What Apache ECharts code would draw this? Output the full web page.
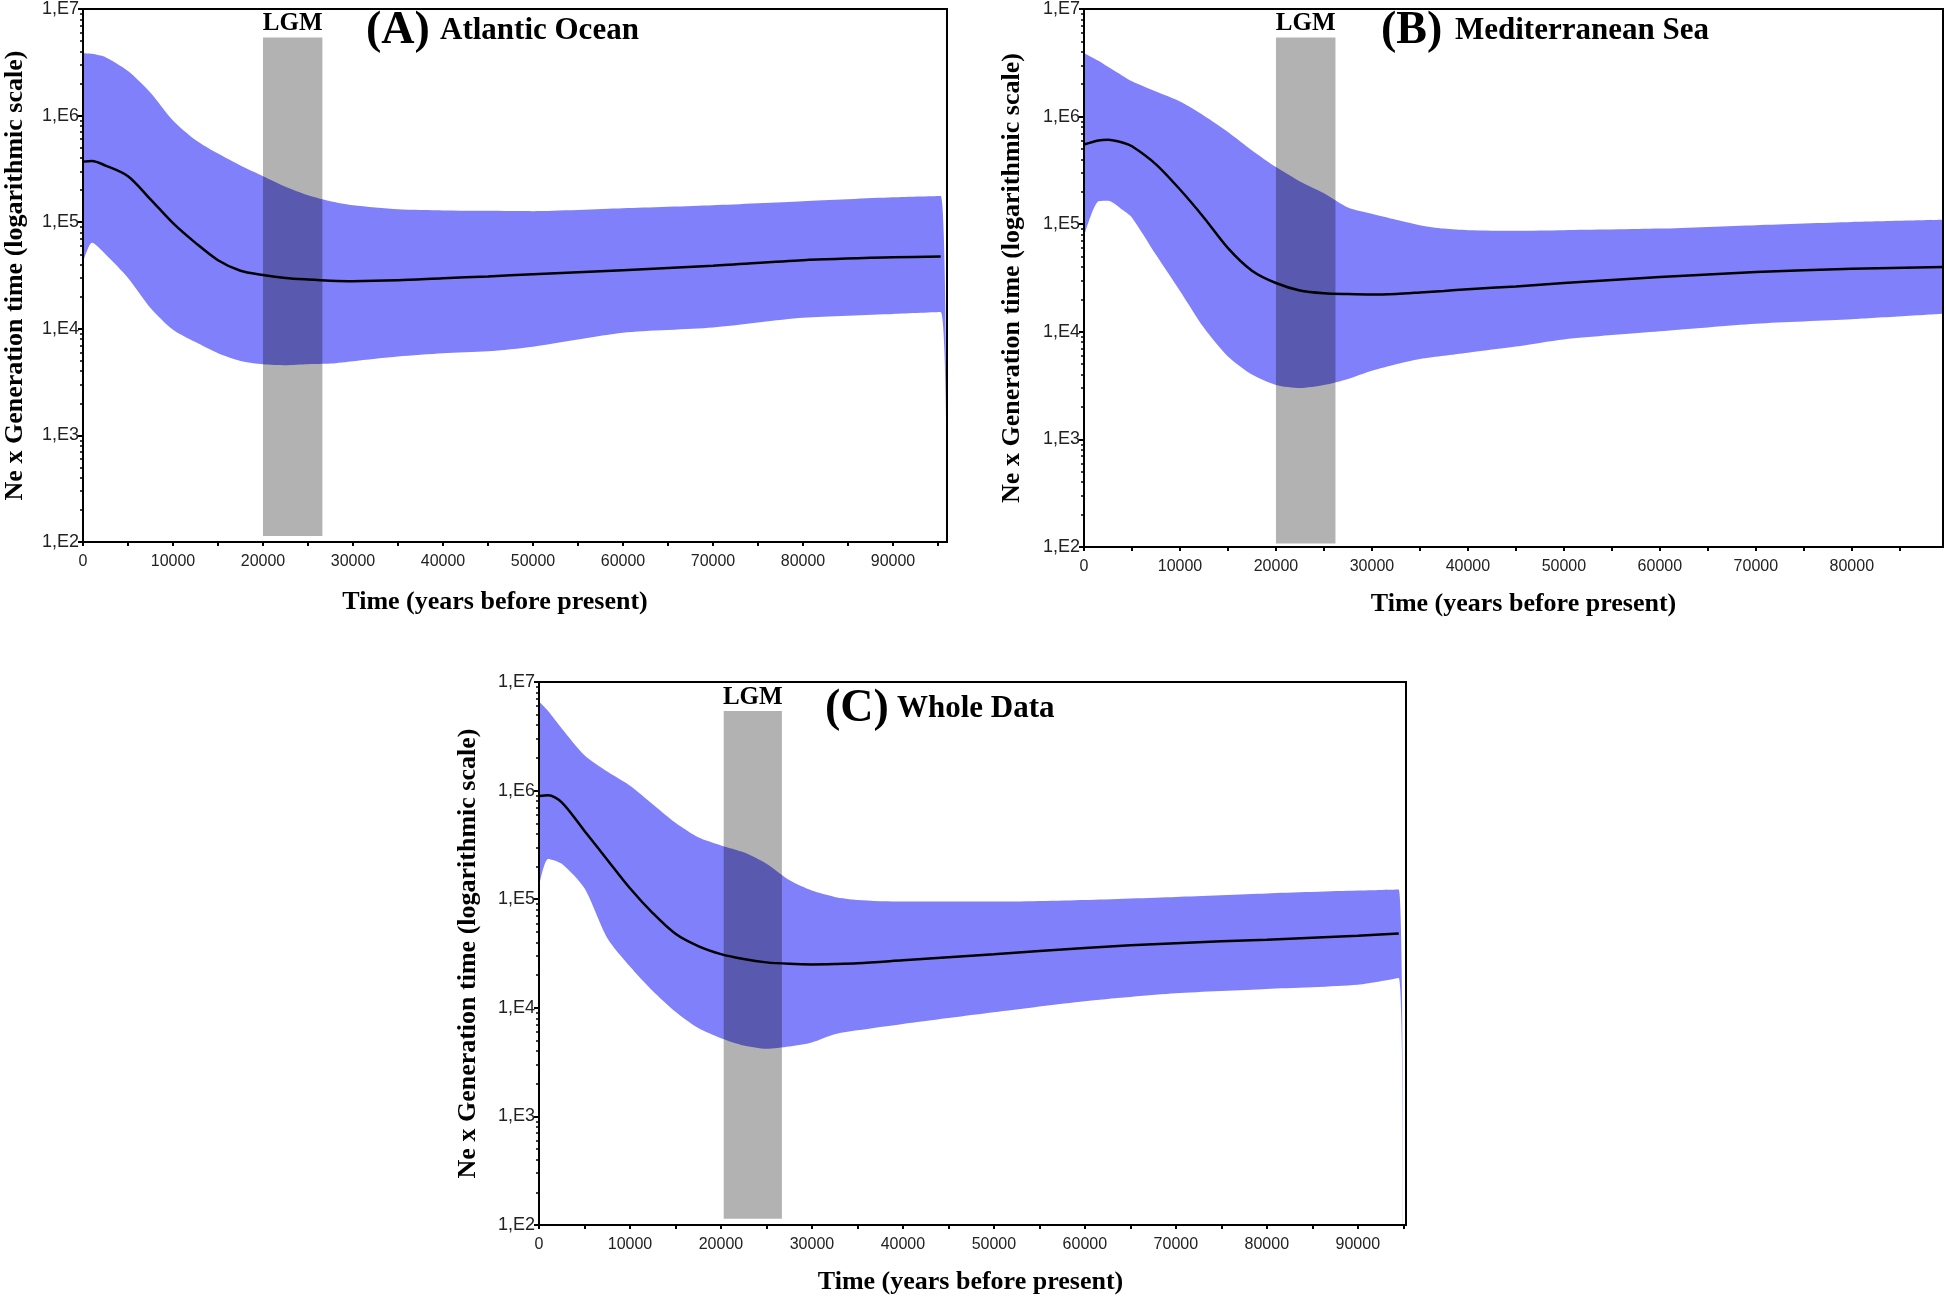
<!DOCTYPE html>
<html><head><meta charset="utf-8">
<script src="https://cdn.jsdelivr.net/npm/echarts@6/dist/echarts.min.js"></script>
<style>html,body{margin:0;padding:0;background:#fff}#c{width:1946px;height:1302px}</style>
</head><body><div id="c"></div>
<script>
// ---------- Panel A: Atlantic Ocean ----------
const xA     = [0, 1000, 2500, 5000, 7500, 10000, 12500, 15000, 17500, 20000, 22500, 25000, 27500, 30000, 35000, 40000, 45000, 50000, 60000, 70000, 80000, 90000, 95300, 96000];
const meanA  = [3.7e5, 3.75e5, 3.4e5, 2.7e5, 1.64e5, 9.8e4, 6.4e4, 4.4e4, 3.5e4, 3.2e4, 3.0e4, 2.9e4, 2.83e4, 2.8e4, 2.85e4, 2.98e4, 3.1e4, 3.25e4, 3.55e4, 3.9e4, 4.4e4, 4.68e4, 4.76e4, null];
const upperA = [3.85e6, 3.8e6, 3.53e6, 2.62e6, 1.64e6, 9.0e5, 5.9e5, 4.4e5, 3.4e5, 2.7e5, 2.15e5, 1.79e5, 1.57e5, 1.44e5, 1.32e5, 1.29e5, 1.28e5, 1.27e5, 1.35e5, 1.44e5, 1.57e5, 1.71e5, 1.76e5, 100];
const lowerA = [4.2e4, 6.4e4, 5.0e4, 3.0e4, 1.57e4, 9.8e3, 7.5e3, 5.9e3, 5.0e3, 4.65e3, 4.56e3, 4.65e3, 4.72e3, 4.97e3, 5.5e3, 5.9e3, 6.15e3, 6.8e3, 9.2e3, 1.03e4, 1.27e4, 1.38e4, 1.44e4, 100];

// ---------- Panel B: Mediterranean Sea ----------
const xB     = [0, 1500, 2500, 4000, 5000, 7500, 10000, 12500, 15000, 17500, 20000, 22500, 25000, 27500, 30000, 32500, 35000, 37500, 40000, 45000, 50000, 60000, 70000, 80000, 89500];
const meanB  = [5.5e5, 6.0e5, 6.1e5, 5.75e5, 5.3e5, 3.6e5, 2.1e5, 1.15e5, 6.0e4, 3.7e4, 2.84e4, 2.42e4, 2.28e4, 2.24e4, 2.22e4, 2.25e4, 2.32e4, 2.4e4, 2.49e4, 2.64e4, 2.84e4, 3.23e4, 3.59e4, 3.85e4, 4.0e4];
const upperB = [3.9e6, 3.3e6, 2.9e6, 2.4e6, 2.13e6, 1.71e6, 1.38e6, 1.02e6, 7.2e5, 4.85e5, 3.4e5, 2.5e5, 1.94e5, 1.43e5, 1.25e5, 1.1e5, 9.8e4, 9.1e4, 8.8e4, 8.7e4, 8.8e4, 9.1e4, 9.8e4, 1.05e5, 1.1e5];
const lowerB = [7.7e4, 1.63e5, 1.65e5, 1.36e5, 1.15e5, 5.2e4, 2.4e4, 1.09e4, 5.9e3, 4.0e3, 3.2e3, 3.0e3, 3.2e3, 3.65e3, 4.35e3, 5.0e3, 5.6e3, 6.0e3, 6.4e3, 7.3e3, 8.5e3, 1.01e4, 1.19e4, 1.31e4, 1.47e4];

// ---------- Panel C: Whole Data ----------
const xC     = [0, 1000, 2500, 5000, 7500, 10000, 12500, 15000, 17500, 20000, 22500, 25000, 27500, 30000, 32500, 35000, 40000, 50000, 60000, 70000, 80000, 90000, 94500, 95000];
const meanC  = [8.9e5, 9.05e5, 7.8e5, 4.25e5, 2.31e5, 1.26e5, 7.45e4, 4.8e4, 3.7e4, 3.12e4, 2.81e4, 2.62e4, 2.54e4, 2.51e4, 2.53e4, 2.57e4, 2.74e4, 3.12e4, 3.56e4, 3.94e4, 4.24e4, 4.61e4, 4.82e4, null];
const upperC = [6.6e6, 5.4e6, 3.74e6, 2.12e6, 1.5e6, 1.11e6, 7.5e5, 5.06e5, 3.72e5, 3.13e5, 2.7e5, 2.12e5, 1.5e5, 1.2e5, 1.05e5, 9.85e4, 9.5e4, 9.5e4, 9.85e4, 1.05e5, 1.13e5, 1.2e5, 1.23e5, 100];
const lowerC = [1.31e5, 2.35e5, 2.12e5, 1.26e5, 4.4e4, 2.4e4, 1.43e4, 9.2e3, 6.5e3, 5.25e3, 4.5e3, 4.2e3, 4.4e3, 4.8e3, 5.7e3, 6.2e3, 7.1e3, 9.1e3, 1.15e4, 1.36e4, 1.49e4, 1.63e4, 1.88e4, 100];

// ---------- LGM shaded period ----------
const lgmRanges = [[20000, 26600], [20000, 26200], [20300, 26700]];
const lgmYRange = [[114, 5.4e6], [108, 5.43e6], [114, 5.4e6]];

// ---------- axes ----------
const xMax = [96000, 89500, 95300];
const yTickValues = [1e2, 1e3, 1e4, 1e5, 1e6, 1e7];
const yTickLabels = ['1,E2', '1,E3', '1,E4', '1,E5', '1,E6', '1,E7'];
const panelLetters = ['(A)', '(B)', '(C)'];
const panelNames = ['Atlantic Ocean', 'Mediterranean Sea', 'Whole Data'];
const yTitle = 'Ne x Generation time (logarithmic scale)';
const xTitle = 'Time (years before present)';

const panels = [
  {x: xA, mean: meanA, up: upperA, lo: lowerA},
  {x: xB, mean: meanB, up: upperB, lo: lowerB},
  {x: xC, mean: meanC, up: upperC, lo: lowerC}
];

const grids = [
  {left: 83, top: 7, width: 864, height: 535},
  {left: 1084, top: 7, width: 859, height: 540},
  {left: 539, top: 682, width: 867, height: 543}
];
const yNameGap = [55, 59, 58];
const xNameGap = [47, 44, 44];
const xNamePad = [[0, 40, 0, 0], [0, 0, 0, 20], [0, 4, 0, 0]];
const titlePos = [
  {l: 366, t: 440, y: 33},
  {l: 1381, t: 1455, y: 33},
  {l: 825, t: 897, y: 711}
];

const BAND = '#8080fb';
const SERIF = '"Liberation Serif", "Times New Roman", serif';
const SANS = '"Liberation Sans", Arial, sans-serif';

const minorY = [];
for (let e = 2; e < 7; e++) for (let m = 2; m <= 9; m++) minorY.push(m * Math.pow(10, e));

const xAxes = [], yAxes = [], series = [], graphics = [];
panels.forEach((p, i) => {
  const ticks = [], labels = [];
  for (let v = 0; v <= xMax[i]; v += 5000) { ticks.push(v); if (v % 10000 === 0) labels.push(v); }
  xAxes.push({
    type: 'value', gridIndex: i, min: 0, max: xMax[i], z: 5,
    name: xTitle, nameLocation: 'middle', nameGap: xNameGap[i],
    nameTextStyle: {fontFamily: SERIF, fontWeight: 'bold', fontSize: 26, color: '#000', padding: xNamePad[i]},
    axisLine: {show: true, onZero: false, lineStyle: {color: '#000', width: 2}},
    axisTick: {show: true, inside: false, length: 4, customValues: ticks, lineStyle: {color: '#000', width: 2}},
    axisLabel: {customValues: labels, margin: 12, fontFamily: SANS, fontSize: 16, color: '#222', formatter: v => String(v)},
    splitLine: {show: false}
  });
  yAxes.push({
    type: 'log', logBase: 10, gridIndex: i, min: 100, max: 1e7, position: 'left', z: 5,
    name: yTitle, nameLocation: 'middle', nameGap: yNameGap[i],
    nameTextStyle: {fontFamily: SERIF, fontWeight: 'bold', fontSize: 26, color: '#000'},
    axisLine: {show: true, lineStyle: {color: '#000', width: 2}},
    axisTick: {show: true, inside: false, length: 5, customValues: yTickValues, lineStyle: {color: '#000', width: 2}},
    axisLabel: {customValues: yTickValues, margin: 4, fontFamily: SANS, fontSize: 18, color: '#222',
      formatter: v => { const k = yTickValues.findIndex(t => Math.abs(t - v) / t < 1e-6); return k >= 0 ? yTickLabels[k] : ''; }},
    splitLine: {show: false}
  });
  yAxes.push({
    type: 'log', logBase: 10, gridIndex: i, min: 100, max: 1e7, position: 'left', z: 5,
    axisLine: {show: false},
    axisTick: {show: true, inside: false, length: 3, customValues: minorY, lineStyle: {color: '#000', width: 1.5}},
    axisLabel: {show: false}, splitLine: {show: false}
  });
  // upper bound filled down to the axis floor in blue
  series.push({
    type: 'line', xAxisIndex: i, yAxisIndex: 2 * i,
    data: p.x.map((x, k) => [x, p.up[k]]),
    symbol: 'none', smooth: 0.25,
    lineStyle: {width: 0, opacity: 0}, areaStyle: {color: BAND, opacity: 1, origin: 'start'}, silent: true, z: 1
  });
  // lower bound: fill below it with the background colour to leave the band between
  series.push({
    type: 'line', xAxisIndex: i, yAxisIndex: 2 * i,
    data: p.x.map((x, k) => [x, p.lo[k]]),
    symbol: 'none', smooth: 0.25,
    lineStyle: {width: 0, opacity: 0}, areaStyle: {color: '#fff', opacity: 1, origin: 'start'}, silent: true, z: 1
  });
  series.push({
    type: 'line', xAxisIndex: i, yAxisIndex: 2 * i,
    data: p.x.map((x, k) => [x, p.mean[k]]),
    symbol: 'none', smooth: 0.3, connectNulls: false,
    lineStyle: {color: '#000', width: 2.5}, silent: true, z: 3,
    markArea: {
      silent: true, z: 4,
      itemStyle: {color: 'rgba(0,0,0,0.3)'},
      label: {show: true, position: 'top', distance: 1, formatter: 'LGM', fontFamily: SERIF, fontWeight: 'bold', fontSize: 25, color: '#000'},
      data: [[{coord: [lgmRanges[i][0], lgmYRange[i][0]]}, {coord: [lgmRanges[i][1], lgmYRange[i][1]]}]]
    }
  });
  graphics.push({type: 'text', left: titlePos[i].l, top: titlePos[i].y - 25, style: {text: panelLetters[i], font: 'bold 46px ' + SERIF, fill: '#000'}});
  graphics.push({type: 'text', left: titlePos[i].t, top: titlePos[i].y - 18, style: {text: panelNames[i], font: 'bold 31px ' + SERIF, fill: '#000'}});
});

const chart = echarts.init(document.getElementById('c'), null, {renderer: 'canvas'});
chart.setOption({
  backgroundColor: '#fff',
  animation: false,
  grid: grids.map(g => Object.assign({show: true, borderColor: '#000', borderWidth: 2, backgroundColor: 'transparent', z: 5}, g)),
  xAxis: xAxes,
  yAxis: yAxes,
  series: series,
  graphic: graphics
});
</script></body></html>
